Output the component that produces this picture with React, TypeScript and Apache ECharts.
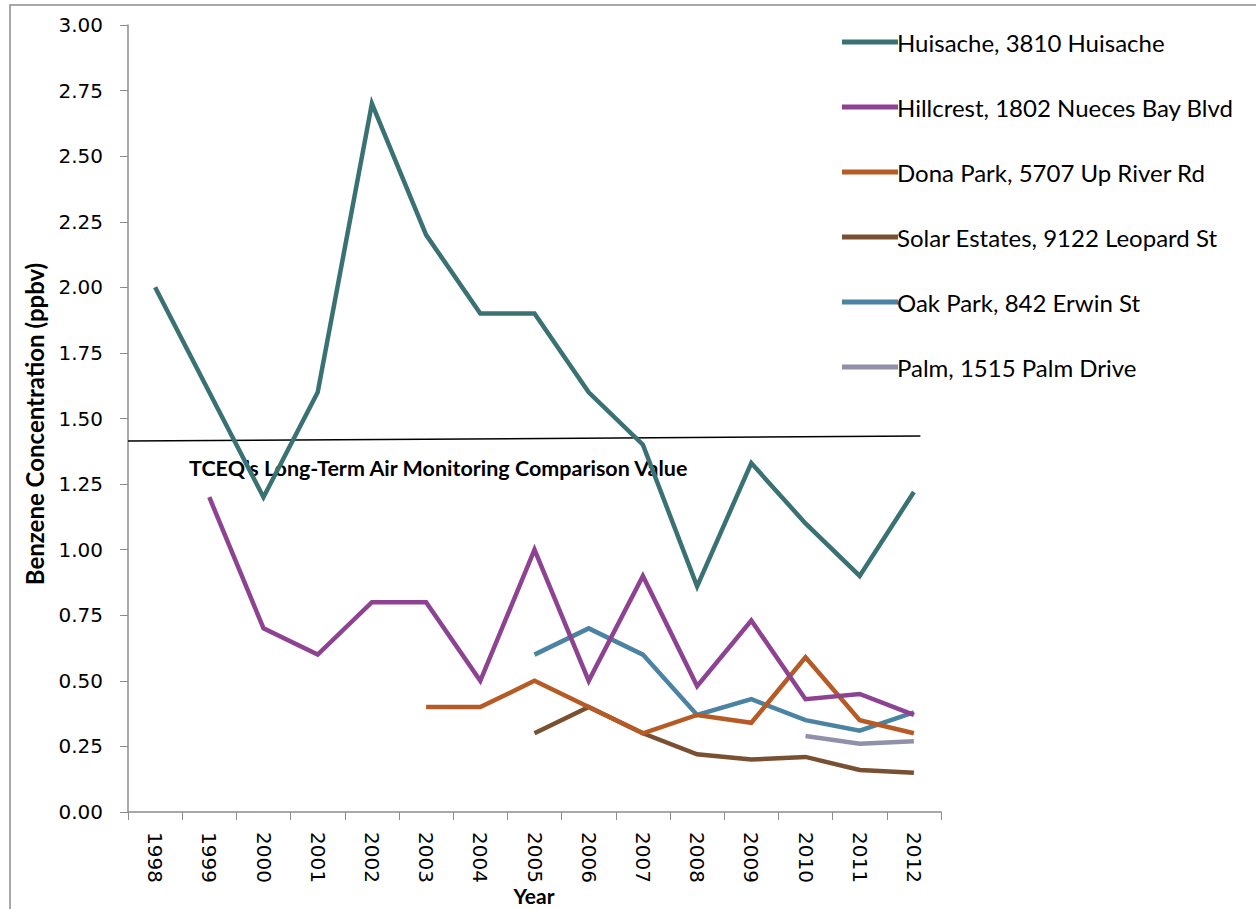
import React, { useEffect, useRef } from "react";
import * as echarts from "echarts";

const years = ["1998","1999","2000","2001","2002","2003","2004","2005","2006","2007","2008","2009","2010","2011","2012"];
const huisache = [2.0, 1.6, 1.2, 1.6, 2.7, 2.2, 1.9, 1.9, 1.6, 1.4, 0.86, 1.33, 1.1, 0.9, 1.22];
const hillcrest = [null, 1.2, 0.7, 0.6, 0.8, 0.8, 0.5, 1.0, 0.5, 0.9, 0.48, 0.73, 0.43, 0.45, 0.37];
const donaPark = [null, null, null, null, null, 0.4, 0.4, 0.5, 0.4, 0.3, 0.37, 0.34, 0.59, 0.35, 0.3];
const solarEstates = [null, null, null, null, null, null, null, 0.3, 0.4, 0.3, 0.22, 0.2, 0.21, 0.16, 0.15];
const oakPark = [null, null, null, null, null, null, null, 0.6, 0.7, 0.6, 0.37, 0.43, 0.35, 0.31, 0.38];
const palm = [null, null, null, null, null, null, null, null, null, null, null, null, 0.29, 0.26, 0.27];
const comparisonLine = [[0, 1.414], [14.62, 1.433]];
const seriesNames = [
  "Huisache, 3810 Huisache",
  "Hillcrest, 1802 Nueces Bay Blvd",
  "Dona Park, 5707 Up River Rd",
  "Solar Estates, 9122 Leopard St",
  "Oak Park, 842 Erwin St",
  "Palm, 1515 Palm Drive",
];
const seriesData = [huisache, hillcrest, donaPark, solarEstates, oakPark, palm];
const colors = ["#3a7273", "#8e4392", "#b65b26", "#7a5033", "#4b83a3", "#9090aa"];

export default function App() {
  const ref = useRef<HTMLDivElement>(null);
  useEffect(() => {
    const chart = echarts.init(ref.current!, null, { renderer: "svg" });
    const tickFont = "DejaVu Sans";
    chart.setOption({
      animation: false,
      backgroundColor: "#ffffff",
      grid: { left: 128, top: 25, right: 315, bottom: 97, containLabel: false, outerBoundsMode: "none" },
      legend: {
        orient: "vertical",
        left: 837,
        top: 25,
        itemGap: 41,
        itemWidth: 56,
        itemHeight: 24,
        icon: "path://M0,9.5 L56,9.5 L56,14.5 L0,14.5 Z",
        textStyle: { fontFamily: "Lato", fontSize: 24, color: "#000", padding: [0, 0, 0, -6] },
        data: seriesNames,
      },
      xAxis: [
        {
          type: "category",
          data: years,
          boundaryGap: true,
          axisLine: { lineStyle: { color: "#8c8c8c", width: 1.5 } },
          axisTick: { show: true, length: 8, lineStyle: { color: "#8c8c8c" } },
          axisLabel: { rotate: -90, fontFamily: tickFont, fontSize: 20, color: "#000", margin: 20 },
        },
        { type: "value", min: 0, max: 15, show: false },
      ],
      yAxis: {
        type: "value",
        min: 0,
        max: 3,
        interval: 0.25,
        splitLine: { show: false },
        axisLine: { show: true, lineStyle: { color: "#8c8c8c", width: 1.5 } },
        axisTick: { show: true, length: 8, lineStyle: { color: "#8c8c8c" } },
        axisLabel: { fontFamily: tickFont, fontSize: 20, color: "#000", margin: 25, formatter: (v: number) => v.toFixed(2) },
      },
      graphic: [
        { type: "rect", shape: { x: 10, y: 5, width: 1300, height: 1000 }, style: { fill: "none", stroke: "#8c8c8c", lineWidth: 1.5 }, silent: true },
        { type: "text", left: 189, top: 457, style: { text: "TCEQ’s Long-Term Air Monitoring Comparison Value", fontFamily: "Lato", fontWeight: "bold", fontSize: 21.5, fill: "#000" } },
        { type: "text", x: 34, y: 424, rotation: Math.PI / 2, style: { text: "Benzene Concentration (ppbv)", fontFamily: "Lato", fontWeight: "bold", fontSize: 24, fill: "#000", align: "center", verticalAlign: "middle" } },
        { type: "text", x: 534, y: 895, style: { text: "Year", fontFamily: "Lato", fontWeight: "bold", fontSize: 21, fill: "#000", align: "center", verticalAlign: "middle" } },
      ],
      series: [
        ...seriesNames.map((name, i) => ({
          name,
          type: "line",
          data: seriesData[i],
          xAxisIndex: 0,
          symbol: "none",
          connectNulls: false,
          lineStyle: { width: 4.5, color: colors[i], join: "miter" },
          itemStyle: { color: colors[i] },
          z: 10 - i,
        })),
        {
          name: "comparison",
          type: "line",
          xAxisIndex: 1,
          data: comparisonLine,
          symbol: "none",
          lineStyle: { width: 1.5, color: "#000" },
          z: 1,
        },
      ],
    });
    return () => chart.dispose();
  }, []);
  return <div ref={ref} style={{ position: "fixed", left: 0, top: 0, width: 1256, height: 909 }} />;
}
